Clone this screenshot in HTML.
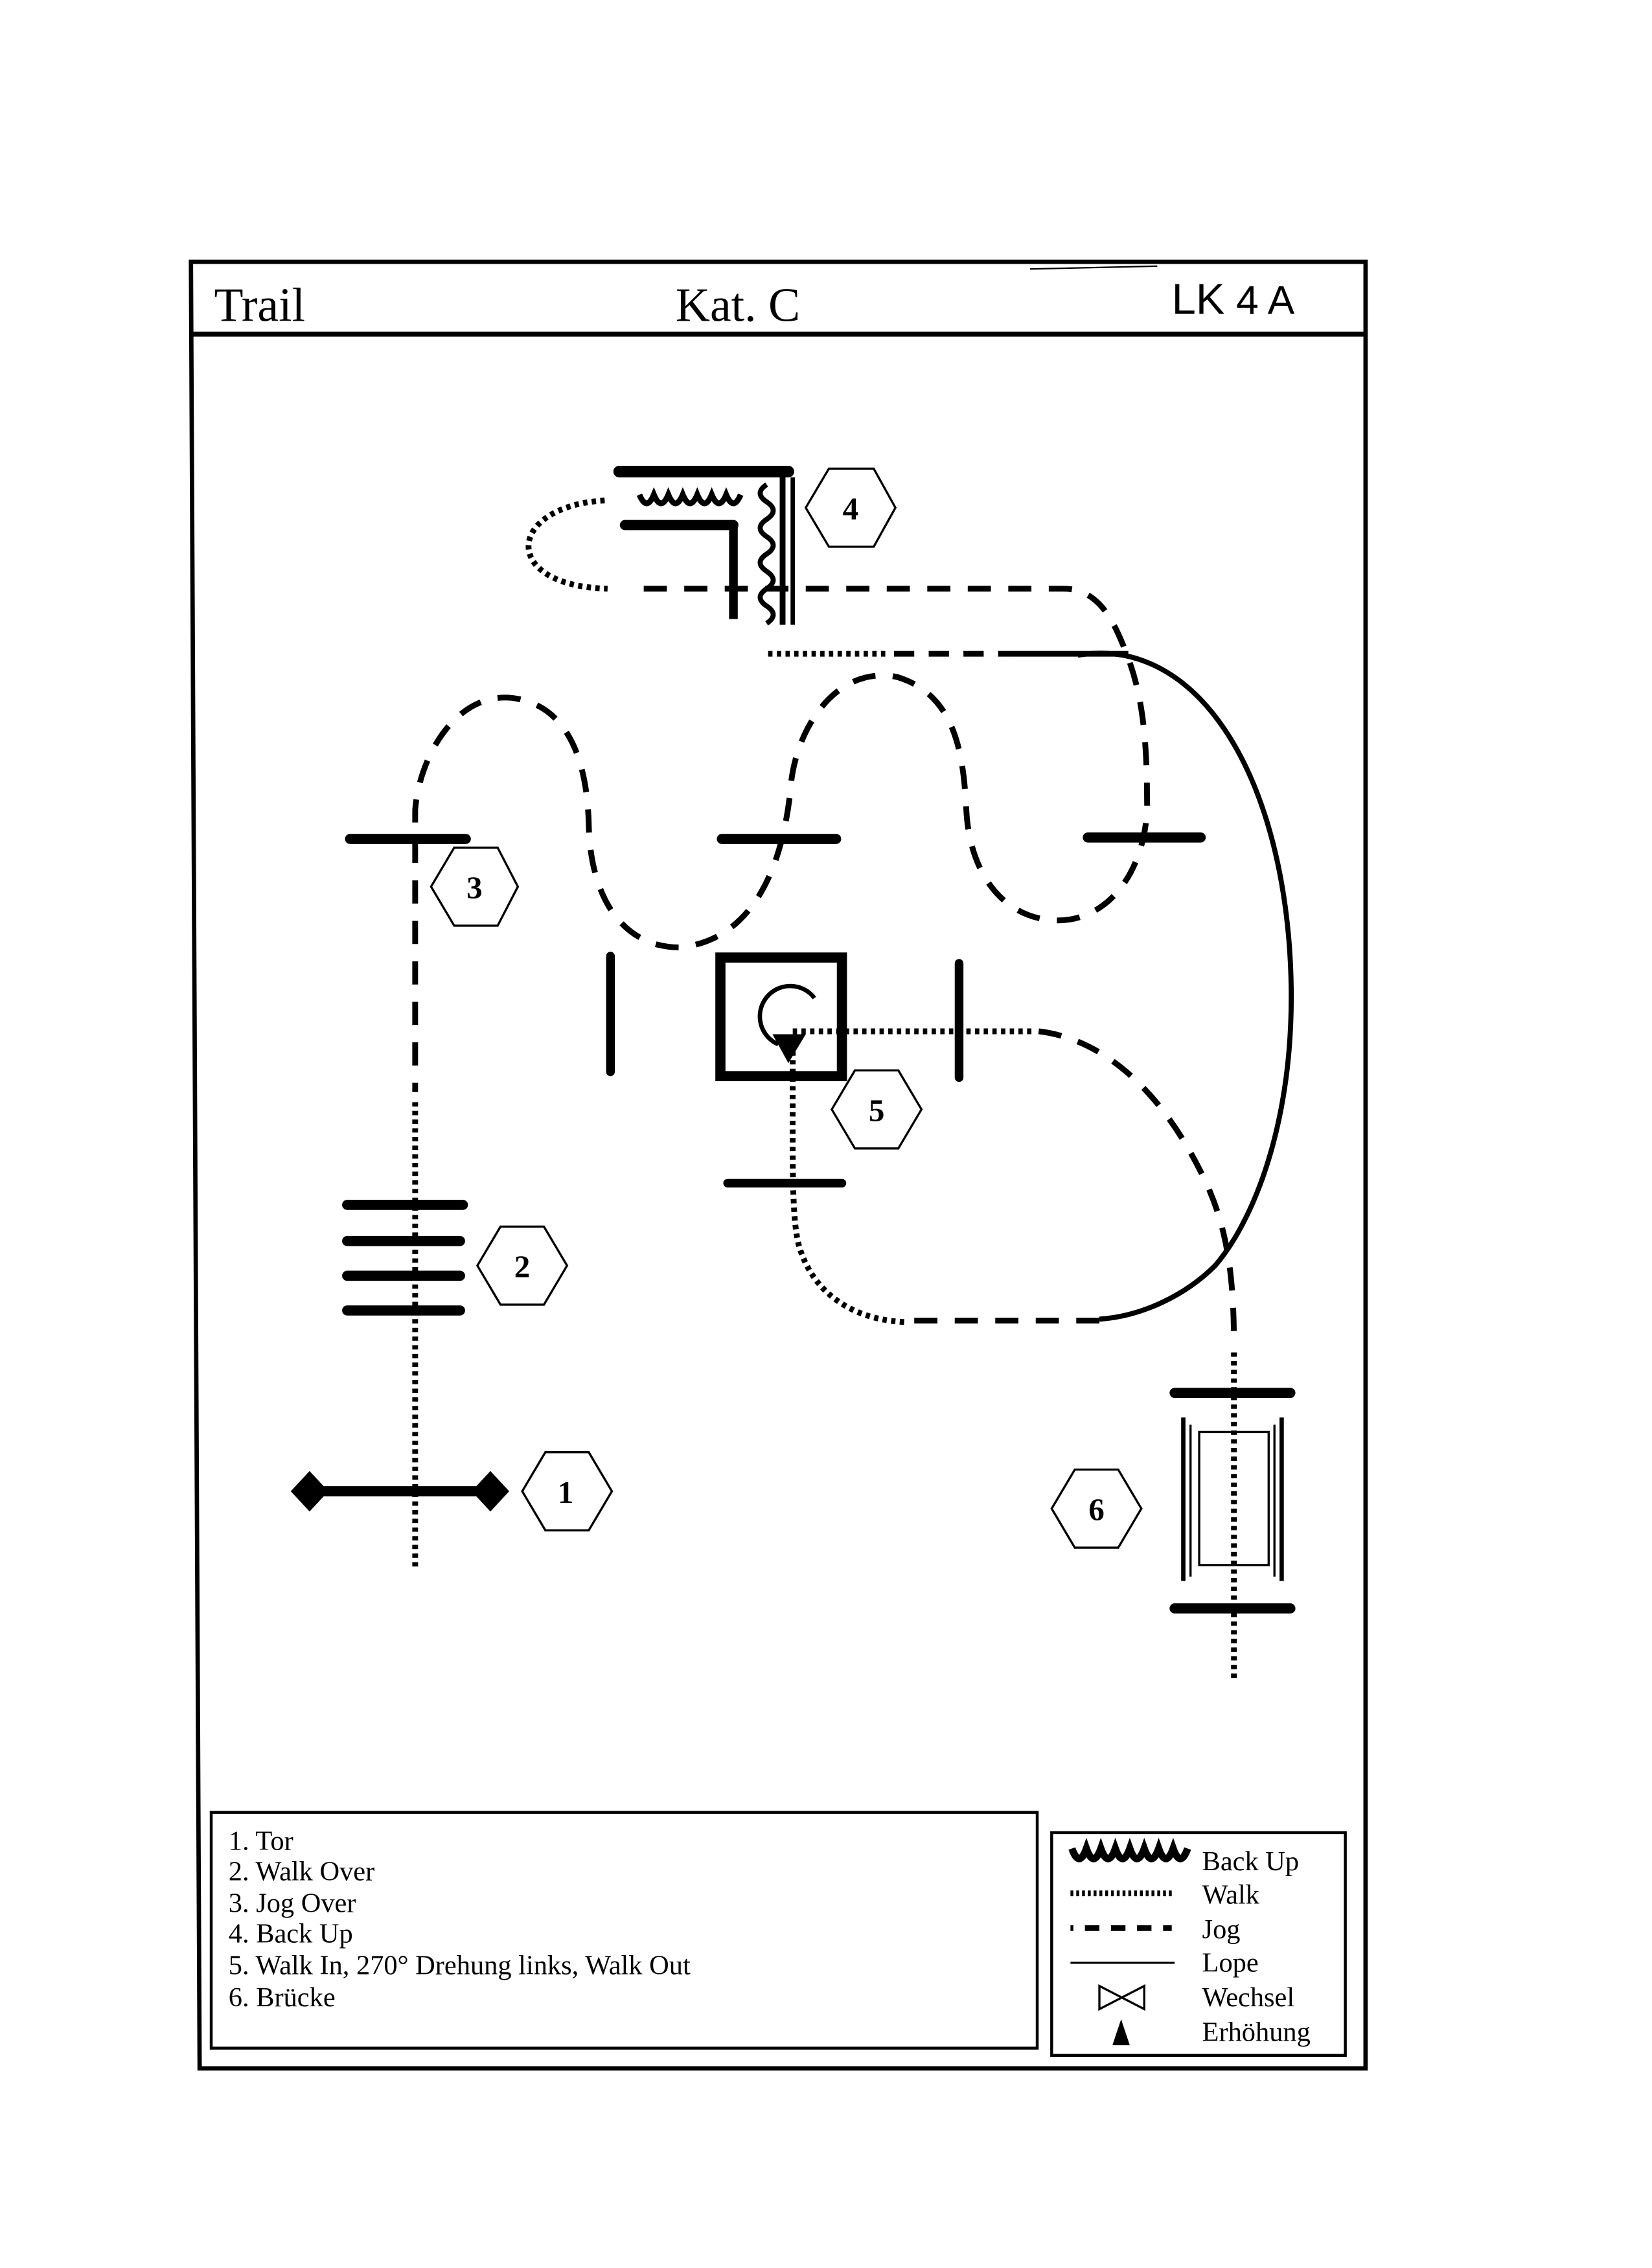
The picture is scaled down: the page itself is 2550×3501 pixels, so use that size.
<!DOCTYPE html>
<html><head><meta charset="utf-8"><style>html,body{margin:0;padding:0;background:#fff}svg{display:block}</style></head>
<body>
<svg width="2550" height="3501" viewBox="0 0 1142 1568" preserveAspectRatio="none" xmlns="http://www.w3.org/2000/svg">
<rect width="1142" height="1568" fill="#fff"/>
<g fill="none" stroke="#000">
<path d="M132 181 L944 181 L944 1430 L138 1430 L132 181 Z" stroke-width="3"/>
<line x1="132" y1="231" x2="944" y2="231" stroke-width="3.5"/>
<line x1="712" y1="186" x2="800" y2="184" stroke-width="1"/>
<rect x="146" y="1253" width="571" height="163" stroke-width="2"/>
<rect x="727" y="1267" width="203" height="154" stroke-width="2"/>
<path d="M741 1278 q5 14 10 0 q5 14 10 0 q5 14 10 0 q5 14 10 0 q5 14 10 0 q5 14 10 0 q5 14 10 0 q5 14 10 0" stroke-width="5"/>
<line x1="740" y1="1309" x2="810" y2="1309" stroke-width="4" stroke-dasharray="2 2"/>
<line x1="740" y1="1333" x2="742" y2="1333" stroke-width="4"/>
<line x1="750" y1="1333" x2="810" y2="1333" stroke-width="4" stroke-dasharray="10 8"/>
<line x1="740" y1="1357" x2="812" y2="1357" stroke-width="1.5"/>
<path d="M760 1373 L760 1389 L791 1373 L791 1389 Z" stroke-width="1.5"/>
<path d="M775 1396 L769 1414 L781 1414 Z" fill="#000" stroke="none"/>

<line x1="428" y1="326" x2="545" y2="326" stroke-width="8" stroke-linecap="round"/>
<line x1="541" y1="326" x2="541" y2="432" stroke-width="4"/>
<line x1="548" y1="330" x2="548" y2="432" stroke-width="3"/>
<line x1="432" y1="363" x2="507" y2="363" stroke-width="7" stroke-linecap="round"/>
<line x1="507" y1="363" x2="507" y2="428" stroke-width="6"/>
<path d="M442 342 q5 12 10 0 q5 12 10 0 q5 12 10 0 q5 12 10 0 q5 12 10 0 q5 12 10 0 q5 12 10 0" stroke-width="4"/>
<path d="M530 335 q-9 6 0 12 q9 6 0 12 q-9 6 0 12 q9 6 0 12 q-9 6 0 12 q9 6 0 12 q-9 6 0 12 q9 6 0 12" stroke-width="3.5"/>
<path d="M418 346 C350 350 345 405 420 407" stroke-width="4" stroke-dasharray="3 3"/>
<path d="M445 407 L735 407 C760 407 770 430 778 450 C790 480 793 510 793 560 C790 610 760 640 725 636 C690 632 670 600 668 560 C666 520 660 480 620 468 C580 460 552 500 547 540 C542 600 520 650 470 655 C430 655 408 620 407 570 C406 530 395 495 365 485 C320 470 290 520 287 560 L287 755" stroke-width="4" stroke-dasharray="16 12"/>
<path d="M287 762 L287 1086" stroke-width="4" stroke-dasharray="3 3"/>
<line x1="531" y1="452" x2="612" y2="452" stroke-width="4" stroke-dasharray="3 3"/>
<line x1="618" y1="452" x2="700" y2="452" stroke-width="4" stroke-dasharray="14 10"/>
<line x1="700" y1="452" x2="780" y2="452" stroke-width="4"/>
<path d="M745 453 C820 440 880 520 891 650 C900 760 870 840 840 875 C820 895 790 910 760 912" stroke-width="3.5"/>
<line x1="760" y1="913" x2="630" y2="913" stroke-width="4" stroke-dasharray="16 12"/>
<path d="M625 914 C585 912 560 890 552 860 C547 840 548 800 548 720" stroke-width="4" stroke-dasharray="3 3"/>
<line x1="548" y1="713" x2="715" y2="713" stroke-width="4" stroke-dasharray="3 3"/>
<path d="M718 713 C760 718 800 750 830 810 C848 845 853 880 853 930" stroke-width="4" stroke-dasharray="16 12"/>
<line x1="853" y1="935" x2="853" y2="1162" stroke-width="4" stroke-dasharray="3 3"/>

<line x1="242" y1="580" x2="322" y2="580" stroke-width="7" stroke-linecap="round"/>
<line x1="499" y1="580" x2="578" y2="580" stroke-width="7" stroke-linecap="round"/>
<line x1="752" y1="579" x2="830" y2="579" stroke-width="7" stroke-linecap="round"/>
<line x1="422" y1="661" x2="422" y2="741" stroke-width="6" stroke-linecap="round"/>
<line x1="663" y1="666" x2="663" y2="745" stroke-width="6" stroke-linecap="round"/>
<rect x="498" y="662" width="84" height="82" stroke-width="7"/>
<path d="M563 690 A21 21 0 1 0 538 722" stroke-width="3"/>
<path d="M534 715 L557 715 L545 735 Z" fill="#000" stroke="none"/>
<line x1="503" y1="818" x2="582" y2="818" stroke-width="6" stroke-linecap="round"/>
<line x1="240" y1="833" x2="320" y2="833" stroke-width="7" stroke-linecap="round"/>
<line x1="240" y1="858" x2="318" y2="858" stroke-width="7" stroke-linecap="round"/>
<line x1="240" y1="882" x2="318" y2="882" stroke-width="7" stroke-linecap="round"/>
<line x1="240" y1="906" x2="318" y2="906" stroke-width="7" stroke-linecap="round"/>
<line x1="210" y1="1031" x2="345" y2="1031" stroke-width="7"/>
<path d="M201 1031 L214 1017 L227 1031 L214 1045 Z" fill="#000" stroke="none"/>
<path d="M326 1031 L339 1017 L352 1031 L339 1045 Z" fill="#000" stroke="none"/>
<line x1="812" y1="963" x2="892" y2="963" stroke-width="7" stroke-linecap="round"/>
<line x1="812" y1="1112" x2="892" y2="1112" stroke-width="7" stroke-linecap="round"/>
<line x1="818" y1="980" x2="818" y2="1093" stroke-width="3"/>
<line x1="823" y1="985" x2="823" y2="1090" stroke-width="1.5"/>
<line x1="886" y1="980" x2="886" y2="1093" stroke-width="3"/>
<line x1="881" y1="985" x2="881" y2="1090" stroke-width="1.5"/>
<rect x="829" y="990" width="48" height="92" stroke-width="1.5"/>

<g stroke-width="1.5" fill="#fff">
<path d="M557 351 L573 324 L604 324 L619 351 L604 378 L573 378 Z"/>
<path d="M298 613 L314 586 L344 586 L358 613 L344 640 L314 640 Z"/>
<path d="M575 767 L591 740 L621 740 L637 767 L621 794 L591 794 Z"/>
<path d="M330 875 L346 848 L376 848 L392 875 L376 902 L346 902 Z"/>
<path d="M361 1031 L377 1004 L407 1004 L423 1031 L407 1058 L377 1058 Z"/>
<path d="M727 1043 L743 1016 L773 1016 L789 1043 L773 1070 L743 1070 Z"/>
</g>
</g>
<g font-family="Liberation Serif, serif" fill="#000">
<text x="148" y="222" font-size="33">Trail</text>
<text x="467" y="222" font-size="33">Kat. C</text>
<text x="810" y="217" font-size="30" font-family="Liberation Sans, sans-serif">LK<tspan font-size="28"> 4 A</tspan></text>
<g font-size="22" font-weight="bold" text-anchor="middle">
<text x="588" y="359">4</text>
<text x="328" y="621">3</text>
<text x="606" y="775">5</text>
<text x="361" y="883">2</text>
<text x="391" y="1039">1</text>
<text x="758" y="1051">6</text>
</g>
<g font-size="19">
<text x="158" y="1279">1. Tor</text>
<text x="158" y="1300">2. Walk Over</text>
<text x="158" y="1322">3. Jog Over</text>
<text x="158" y="1343">4. Back Up</text>
<text x="158" y="1365">5. Walk In, 270° Drehung links, Walk Out</text>
<text x="158" y="1387">6. Brücke</text>
<text x="831" y="1293">Back Up</text>
<text x="831" y="1316">Walk</text>
<text x="831" y="1340">Jog</text>
<text x="831" y="1363">Lope</text>
<text x="831" y="1387">Wechsel</text>
<text x="831" y="1411">Erhöhung</text>
</g>
</g>
</svg>
</body></html>
